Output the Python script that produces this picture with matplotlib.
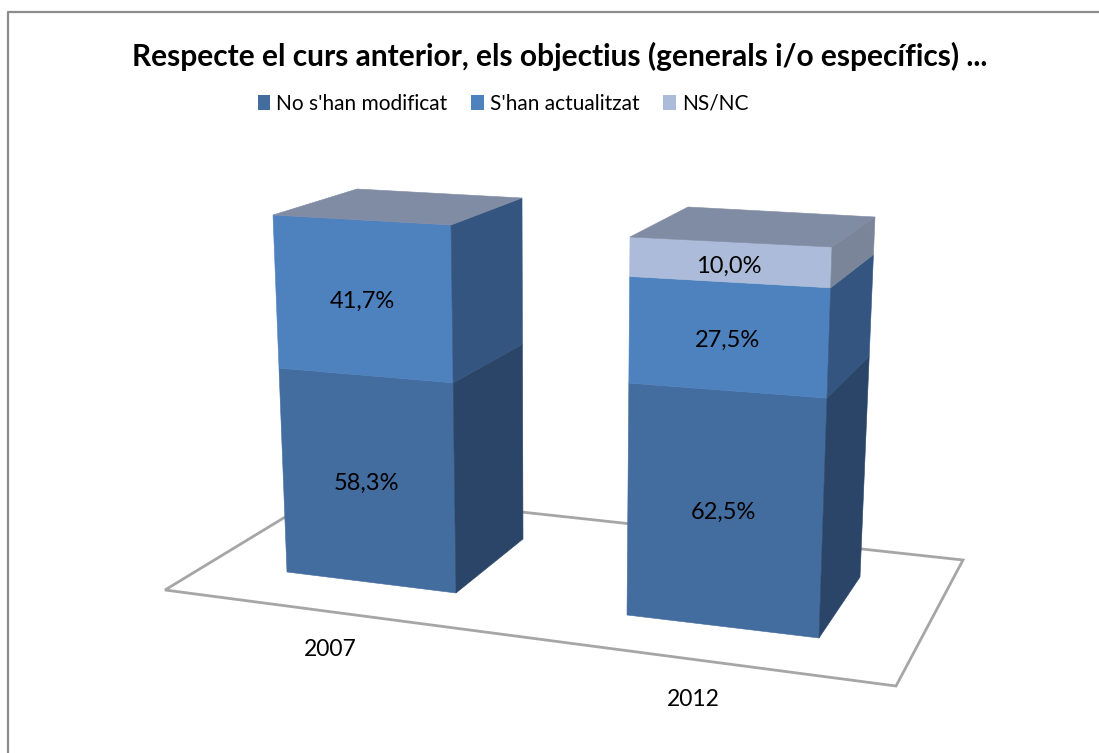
import matplotlib
matplotlib.use("Agg")
import matplotlib.pyplot as plt
from matplotlib.patches import Polygon, Rectangle

years = ["2007", "2012"]
series_names = ["No s'han modificat", "S'han actualitzat", "NS/NC"]
no_modificat = [58.3, 62.5]
actualitzat = [41.7, 27.5]
ns_nc = [0.0, 10.0]
series = [no_modificat, actualitzat, ns_nc]

front_colors = ["#436C9F", "#4E82BF", "#ABBBD9"]
side_colors = ["#2B4568", "#34557F", "#7A8599"]
top_color = "#808BA4"

# bar geometry in picture pixels: (bottom, top) of each vertical edge
bar_edges = [
    {"fl": ((287, 572), (273, 215)), "fr": ((456, 593), (451, 225)),
     "br": ((523, 539), (522, 198)), "bl_top": (357, 189)},
    {"fl": ((627, 615), (630, 237)), "fr": ((819, 638), (832, 247)),
     "br": ((860, 577), (875, 217)), "bl_top": (688, 207)},
]
floor = [(165, 590), (328, 491), (963, 560), (896, 686)]
year_pos = [(330, 649), (693, 699)]
persp = 1.05


def edge_point(edge, v):
    # position along a vertical edge, with a bit of perspective foreshortening
    (x0, y0), (x1, y1) = edge
    f = v / 100.0
    t = f / (f + persp * (1 - f))
    return (x0 + (x1 - x0) * t, y0 + (y1 - y0) * t)


fig = plt.figure(figsize=(10.99, 7.53), dpi=100)
ax = fig.add_axes([0, 0, 1, 1])
ax.set_xlim(0, 1099)
ax.set_ylim(753, 0)
ax.axis("off")
plt.rcParams["font.family"] = ["Lato", "DejaVu Sans"]

# chart frame, only left and top are visible in the crop
ax.plot([7.5, 7.5, 1099], [753, 12, 12], color="#8C8C8C", lw=1.6)
ax.add_patch(Polygon(floor, closed=True, fill=False, ec="#A6A6A6", lw=2, zorder=1))

for i, edges in enumerate(bar_edges):
    base = 0.0
    for s, vals in enumerate(series):
        v = vals[i]
        if v == 0:
            continue
        top = base + v
        fl0, fl1 = edge_point(edges["fl"], base), edge_point(edges["fl"], top)
        fr0, fr1 = edge_point(edges["fr"], base), edge_point(edges["fr"], top)
        br0, br1 = edge_point(edges["br"], base), edge_point(edges["br"], top)
        c = front_colors[s]
        ax.add_patch(Polygon([fl0, fr0, fr1, fl1], fc=c, ec=c, lw=0.4, zorder=3))
        c = side_colors[s]
        ax.add_patch(Polygon([fr0, br0, br1, fr1], fc=c, ec=c, lw=0.4, zorder=3))
        cx = (fl0[0] + fl1[0] + fr0[0] + fr1[0]) / 4 - 2
        cy = (fl0[1] + fl1[1] + fr0[1] + fr1[1]) / 4 + 4
        ax.text(cx, cy, f"{v:.1f}%".replace(".", ","), ha="center", va="center",
                fontsize=17, color="black", zorder=5)
        base = top
    ax.add_patch(Polygon([edges["fl"][1], edges["fr"][1], edges["br"][1], edges["bl_top"]],
                         fc=top_color, ec=top_color, lw=0.4, zorder=3))

for lab, (x, y) in zip(years, year_pos):
    ax.text(x, y, lab, ha="center", va="center", fontsize=16.5, color="black")

ax.text(560, 56, "Respecte el curs anterior, els objectius (generals i/o específics) ...",
        ha="center", va="center", fontsize=21.5, fontweight="bold", color="black")

handles = [Rectangle((0, 0), 1, 1, fc=c, ec="none") for c in front_colors]
ax.legend(handles, series_names, ncol=3, loc="center", bbox_to_anchor=(503 / 1099, 1 - 104 / 753),
          frameon=False, fontsize=15, handlelength=0.6, handleheight=0.72,
          handletextpad=0.29, columnspacing=1.15)

plt.savefig("out.png", dpi=100)
print("Plot saved to out.png")
